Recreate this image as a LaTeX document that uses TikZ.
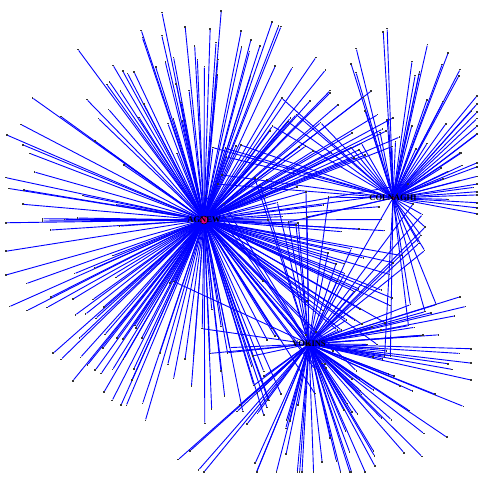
\documentclass[tikz,border=0pt]{standalone}
\usepackage{fontspec}
\setmainfont{Liberation Serif}
\usetikzlibrary{calc,backgrounds}

\begin{document}
\begin{tikzpicture}[
  x=1pt, y=-1pt,
  edge/.style={blue, line width=0.9pt},
  leaf/.style={rectangle, fill=black!80, inner sep=0pt, minimum size=1.6pt},
  hub/.style={circle, draw=black, fill=magenta, inner sep=0pt, line width=0.5pt},
  lbl/.style={font=\fontsize{8.5}{9}\selectfont\bfseries, text=black, inner sep=0pt},
]
\useasboundingbox (0,0) rectangle (478,479);
\pgfmathsetseed{4213}

% the three dealers
\node[hub, minimum size=8pt] (agnew) at (204,220) {};
\node[hub, minimum size=3pt] (colnaghi) at (393,198) {};
\node[hub, minimum size=3pt] (vokins) at (309,344) {};

% leaves of AGNEW
\foreach \i in {1,...,200}{
  \pgfmathsetmacro\ang{-45+360*rnd}
  \pgfmathsetmacro\rad{min(55+160*sqrt(rnd), 198/max(abs(cos(\ang)),0.05), 214/max(abs(sin(\ang)),0.05))}
  \node[leaf] (a\i) at ($(agnew)+(\ang:\rad)$) {};
}
% leaves of COLNAGHI
\foreach \i in {1,...,50}{
  \pgfmathsetmacro\ang{-112+125*rnd}
  \pgfmathsetmacro\rad{min(50+120*rnd, 84/max(cos(\ang),0.05))}
  \node[leaf] (c\i) at ($(colnaghi)+(\ang:\rad)$) {};
}
% leaves of VOKINS
\foreach \i in {1,...,78}{
  \pgfmathsetmacro\ang{-20+165*rnd}
  \pgfmathsetmacro\rad{min(55+125*rnd, 128/max(sin(\ang),0.05), 162/max(cos(\ang),0.05))}
  \node[leaf] (v\i) at ($(vokins)+(\ang:\rad)$) {};
}
% shared leaves
\coordinate (mav) at ($(agnew)!0.5!(vokins)$);
\coordinate (mac) at ($(agnew)!0.5!(colnaghi)$);
\coordinate (mcv) at ($(colnaghi)!0.5!(vokins)$);
\foreach \i in {1,...,26}{
  \pgfmathsetmacro\ang{360*rnd}
  \pgfmathsetmacro\rad{81*(0.85+0.45*rnd)}
  \node[leaf] (av\i) at ($(mav)+(\ang:\rad)$) {};
}
\foreach \i in {1,...,16}{
  \pgfmathsetmacro\ang{180+170*rnd}
  \pgfmathsetmacro\rad{95*(0.85+0.35*rnd)}
  \node[leaf] (ac\i) at ($(mac)+(\ang:\rad)$) {};
}
\foreach \i in {1,...,16}{
  \pgfmathsetmacro\ang{360*rnd}
  \pgfmathsetmacro\rad{84*(0.8+0.35*rnd)}
  \node[leaf] (cv\i) at ($(mcv)+(\ang:\rad)$) {};
}

% names over the hubs
\node[lbl] (agnewlbl) at (agnew) {AGNEW};
\node[lbl] (colnaghilbl) at (colnaghi) {COLNAGHI};
\node[lbl] (vokinslbl) at (vokins) {VOKINS};

\begin{scope}[on background layer]
  \foreach \i in {1,...,200} \draw[edge] (agnew.center) -- (a\i);
  \foreach \i in {1,...,50} \draw[edge] (colnaghi.center) -- (c\i);
  \foreach \i in {1,...,78} \draw[edge] (vokins.center) -- (v\i);
  \foreach \i in {1,...,26} \draw[edge] (agnew.center) -- (av\i) -- (vokins.center);
  \foreach \i in {1,...,16} \draw[edge] (agnew.center) -- (ac\i) -- (colnaghi.center);
  \foreach \i in {1,...,16} \draw[edge] (colnaghi.center) -- (cv\i) -- (vokins.center);
\end{scope}
\end{tikzpicture}
\end{document}
